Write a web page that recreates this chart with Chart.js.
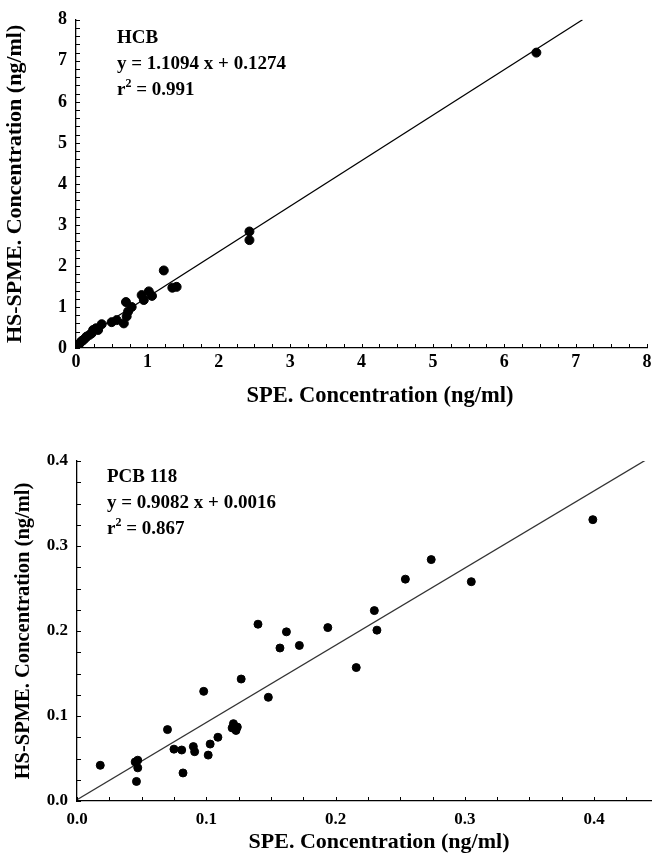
<!DOCTYPE html>
<html>
<head>
<meta charset="utf-8">
<script src="https://cdn.jsdelivr.net/npm/chart.js@4.4.1/dist/chart.umd.min.js"></script>
<style>
  body { margin: 0; background: #fff; }
  .wrap { position: absolute; left: 0; width: 656px; }
  #top { top: 0; height: 410px; }
  #bottom { top: 410px; height: 457px; }
</style>
</head>
<body>
<div class="wrap" id="top"><canvas id="hcb"></canvas></div>
<div class="wrap" id="bottom"><canvas id="pcb"></canvas></div>
<script>
// HCB: SPE concentration vs HS-SPME concentration (ng/ml)
const hcbSpe = [0.02, 0.04, 0.06, 0.08, 0.10, 0.13, 0.15, 0.19, 0.22, 0.24, 0.28, 0.31, 0.36, 0.50, 0.57,
  0.67, 0.71, 0.73, 0.70, 0.78, 0.92, 0.95, 1.02, 1.065, 1.23, 1.35, 1.41, 2.43, 2.43, 6.45];
const hcbHs = [0.05, 0.09, 0.13, 0.17, 0.19, 0.24, 0.28, 0.32, 0.36, 0.44, 0.48, 0.44, 0.58, 0.63, 0.68,
  0.60, 0.77, 0.89, 1.12, 1.00, 1.29, 1.17, 1.38, 1.27, 1.89, 1.47, 1.49, 2.84, 2.63, 7.20];
const hcbFit = [1.1094, 0.1274]; // slope, intercept
const hcbTicks = [0, 1, 2, 3, 4, 5, 6, 7, 8];

// PCB 118
const pcbSpe = [0.018, 0.045, 0.047, 0.047, 0.046, 0.070, 0.075, 0.081, 0.082, 0.090, 0.091, 0.098, 0.1015,
  0.103, 0.109, 0.121, 0.120, 0.124, 0.123, 0.127, 0.140, 0.148, 0.157, 0.162, 0.172, 0.194, 0.216,
  0.230, 0.232, 0.254, 0.274, 0.305, 0.399];
const pcbHs = [0.042, 0.046, 0.048, 0.039, 0.023, 0.084, 0.061, 0.060, 0.033, 0.064, 0.058, 0.129, 0.054,
  0.067, 0.075, 0.091, 0.086, 0.087, 0.083, 0.1435, 0.208, 0.122, 0.180, 0.199, 0.183, 0.204, 0.157,
  0.224, 0.201, 0.261, 0.284, 0.258, 0.331];
const pcbFit = [0.9082, 0.0016];
const pcbTicks = [0.0, 0.1, 0.2, 0.3, 0.4];

const FONT = "'Liberation Serif', 'Times New Roman', serif";

const toPoints = (xs, ys) => xs.map((x, i) => ({ x: x, y: ys[i] }));
const fitPoints = (fit, x0, x1) => [x0, x1].map(x => ({ x: x, y: fit[0] * x + fit[1] }));

// small inward ticks, plus annotation text and x title
const decor = {
  id: 'decor',
  afterDraw(chart, args, opts) {
    const ctx = chart.ctx;
    const xs = chart.scales.x, ys = chart.scales.y;
    const area = chart.chartArea;
    ctx.save();
    ctx.strokeStyle = '#000';
    ctx.lineWidth = 1;
    for (let v = xs.min; v <= xs.max + 1e-9; v += opts.xMinor) {
      const px = Math.round(xs.getPixelForValue(v)) + 0.5;
      ctx.beginPath();
      ctx.moveTo(px, area.bottom);
      ctx.lineTo(px, area.bottom - 4);
      ctx.stroke();
    }
    for (let v = ys.min; v <= ys.max + 1e-9; v += opts.yMinor) {
      const py = Math.round(ys.getPixelForValue(v)) + 0.5;
      ctx.beginPath();
      ctx.moveTo(area.left, py);
      ctx.lineTo(area.left + 4, py);
      ctx.stroke();
    }
    ctx.fillStyle = '#000';
    ctx.textBaseline = 'middle';
    ctx.textAlign = 'left';
    const f = 'bold ' + opts.noteSize + 'px ' + FONT;
    const fs = 'bold ' + Math.round(opts.noteSize * 0.65) + 'px ' + FONT;
    const x0 = area.left + opts.noteLeft;
    opts.notes.forEach((line, i) => {
      const y = area.top + opts.noteTop + i * opts.noteGap;
      ctx.font = f;
      if (line.indexOf('r²') === 0) {
        ctx.fillText('r', x0, y);
        const w = ctx.measureText('r').width;
        ctx.font = fs;
        ctx.fillText('2', x0 + w, y - 6);
        const w2 = ctx.measureText('2').width;
        ctx.font = f;
        ctx.fillText(line.slice(2), x0 + w + w2, y);
      } else {
        ctx.fillText(line, x0, y);
      }
    });
    ctx.textAlign = 'center';
    ctx.font = 'bold ' + opts.titleSize + 'px ' + FONT;
    ctx.fillText(opts.xTitle, opts.xTitleX, opts.xTitleY);
    ctx.restore();
  }
};

function makeChart(id, cfg) {
  new Chart(document.getElementById(id), {
    type: 'scatter',
    data: {
      datasets: [
        {
          data: toPoints(cfg.xs, cfg.ys),
          backgroundColor: '#000',
          borderColor: '#000',
          pointRadius: cfg.radius,
          pointHoverRadius: cfg.radius
        },
        {
          type: 'line',
          data: fitPoints(cfg.fit, 0, cfg.fitEnd),
          borderColor: cfg.lineColor,
          borderWidth: 1.3,
          pointRadius: 0,
          fill: false
        }
      ]
    },
    options: {
      responsive: true,
      maintainAspectRatio: false,
      animation: false,
      layout: { padding: cfg.padding },
      plugins: {
        legend: { display: false },
        tooltip: { enabled: false },
        decor: cfg.decor
      },
      scales: {
        x: {
          type: 'linear',
          min: cfg.xMin, max: cfg.xMax,
          afterFit: s => { s.height = cfg.xHeight; },
          afterBuildTicks: s => { s.ticks = cfg.xTicks.map(v => ({ value: v })); },
          grid: { display: false, drawTicks: false },
          border: { display: true, color: '#000', width: 1.3 },
          ticks: {
            color: '#000', padding: cfg.xPad,
            font: { family: FONT, weight: 'bold', size: cfg.tickSize },
            maxRotation: 0,
            callback: v => v.toFixed(cfg.digits)
          }
        },
        y: {
          type: 'linear',
          min: cfg.yMin, max: cfg.yMax,
          afterFit: s => { s.width = cfg.yWidth; },
          afterBuildTicks: s => { s.ticks = cfg.yTicks.map(v => ({ value: v })); },
          grid: { display: false, drawTicks: false },
          border: { display: true, color: '#000', width: 1.3 },
          title: {
            display: true,
            text: 'HS-SPME. Concentration (ng/ml)',
            color: '#000',
            padding: { top: cfg.yTitlePad, bottom: 0 },
            font: { family: FONT, weight: 'bold', size: cfg.yTitleSize }
          },
          ticks: {
            color: '#000', padding: cfg.yPad,
            font: { family: FONT, weight: 'bold', size: cfg.tickSize },
            callback: v => v.toFixed(cfg.digits)
          }
        }
      }
    },
    plugins: [decor]
  });
}

makeChart('hcb', {
  xs: hcbSpe, ys: hcbHs, fit: hcbFit,
  fitEnd: (8 - hcbFit[1]) / hcbFit[0],
  radius: 4.5, lineColor: '#000',
  xMin: 0, xMax: 8, yMin: 0, yMax: 8,
  xTicks: hcbTicks, yTicks: hcbTicks, digits: 0,
  padding: { top: 18, right: 9, left: 0, bottom: 0 },
  xHeight: 62, yWidth: 76, xPad: 4, yPad: 9,
  tickSize: 18, yTitleSize: 22, yTitlePad: 2,
  decor: {
    xMinor: 0.25, yMinor: 0.2,
    notes: ['HCB', 'y = 1.1094 x + 0.1274', 'r² = 0.991'],
    noteLeft: 41, noteTop: 18, noteGap: 26, noteSize: 19,
    xTitle: 'SPE. Concentration (ng/ml)', xTitleX: 380, xTitleY: 396, titleSize: 22.5
  }
});

makeChart('pcb', {
  xs: pcbSpe, ys: pcbHs, fit: pcbFit,
  fitEnd: 0.444,
  radius: 4, lineColor: '#333',
  xMin: 0, xMax: 0.444, yMin: 0, yMax: 0.4,
  xTicks: pcbTicks, yTicks: pcbTicks, digits: 1,
  padding: { top: 51, right: 0, left: 0, bottom: 0 },
  xHeight: 66, yWidth: 77, xPad: 8, yPad: 9,
  tickSize: 17, yTitleSize: 20.5, yTitlePad: 11,
  decor: {
    xMinor: 0.025, yMinor: 0.025,
    notes: ['PCB 118', 'y = 0.9082 x + 0.0016', 'r² = 0.867'],
    noteLeft: 30, noteTop: 16, noteGap: 26, noteSize: 19,
    xTitle: 'SPE. Concentration (ng/ml)', xTitleX: 379, xTitleY: 432, titleSize: 22
  }
});
</script>
</body>
</html>
